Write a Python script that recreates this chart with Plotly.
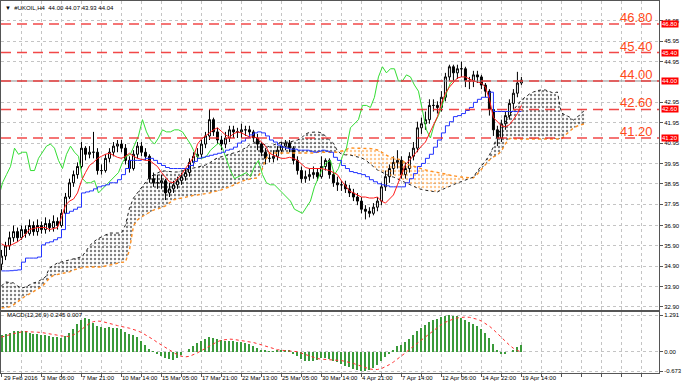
import plotly.graph_objects as go

# ---------------- data ----------------
OPEN = [35.0, 35.4, 35.9, 36.3, 36.6, 36.3, 36.7, 36.5, 36.9, 36.6,
        36.9, 36.7, 37.0, 36.8, 37.1, 36.9, 37.5, 38.3, 39.0, 39.4,
        39.8, 40.7, 40.4, 40.5, 40.5, 39.6, 39.6, 40.2, 40.5, 40.8,
        40.9, 40.7, 40.1, 39.7, 40.4, 40.8, 40.5, 40.3, 39.2, 39.0,
        39.0, 39.1, 38.5, 38.7, 38.9, 39.1, 39.3, 39.5, 40.0, 40.3,
        40.4, 40.9, 41.3, 42.1, 41.5, 41.1, 40.9, 41.2, 41.6, 41.5,
        41.5, 41.6, 41.6, 41.5, 41.2, 40.9, 40.5, 40.2, 40.2, 40.3,
        40.6, 40.8, 40.95, 40.7, 40.1, 39.6, 39.2, 39.3, 39.4, 39.5,
        39.3, 39.8, 40.1, 39.4, 39.0, 38.9, 38.9, 38.7, 38.5, 38.3,
        38.1, 37.7, 37.6, 37.5, 37.8, 38.1, 38.8, 39.3, 39.7, 40.0,
        40.1, 39.4, 39.7, 40.3, 40.7, 41.7, 41.9, 42.1, 42.8, 42.8,
        42.7, 43.2, 44.2, 44.7, 44.4, 44.6, 44.6, 44.0, 44.0, 44.3,
        44.2, 43.8, 43.5, 42.6, 41.6, 41.2, 41.9, 42.3, 42.9, 43.4,
        43.9]
HIGH = [35.7, 36.1, 36.6, 36.9, 36.8, 36.9, 36.9, 37.2, 37.1, 37.2,
        37.1, 37.3, 37.2, 37.4, 37.3, 37.7, 38.5, 39.2, 39.6, 40.0,
        41.0, 40.8, 40.8, 41.5, 40.7, 39.9, 40.4, 40.7, 41.0, 41.1,
        41.1, 40.9, 40.3, 40.6, 41.0, 41.0, 40.7, 40.4, 39.5, 39.4,
        39.4, 39.2, 39.0, 39.1, 39.3, 39.5, 39.7, 40.2, 40.5, 40.7,
        41.1, 41.5, 42.6, 42.2, 41.7, 41.3, 41.5, 41.8, 41.8, 41.7,
        41.9, 41.8, 41.8, 41.6, 41.4, 41.0, 40.7, 40.5, 40.6, 40.8,
        41.0, 41.1, 41.1, 40.8, 40.3, 39.8, 39.6, 39.7, 39.8, 39.7,
        40.3, 40.2, 40.2, 39.6, 39.3, 39.1, 39.1, 38.9, 38.7, 38.5,
        38.3, 37.9, 37.8, 38.0, 38.3, 39.0, 39.6, 39.9, 40.3, 40.6,
        40.3, 40.0, 40.5, 41.0, 42.0, 42.2, 42.5, 43.1, 43.1, 43.0,
        43.5, 44.4, 44.8, 44.8, 44.8, 44.95, 44.7, 44.2, 44.5, 44.5,
        44.3, 43.9, 43.6, 42.8, 41.8, 42.1, 42.5, 43.1, 43.6, 44.45,
        44.2]
LOW = [34.7, 35.2, 35.7, 36.1, 36.1, 36.2, 36.3, 36.4, 36.4, 36.4,
       36.5, 36.5, 36.6, 36.6, 36.7, 36.8, 37.4, 38.2, 38.8, 39.2,
       39.7, 40.1, 40.2, 40.2, 39.4, 39.4, 39.5, 40.0, 40.3, 40.5,
       40.5, 39.9, 39.5, 39.6, 40.2, 40.3, 40.1, 39.0, 38.8, 38.7,
       38.7, 38.15, 38.3, 38.5, 38.7, 38.9, 39.1, 39.3, 39.8, 40.1,
       40.2, 40.7, 41.1, 41.3, 40.9, 40.6, 40.7, 41.0, 41.2, 41.2,
       41.2, 41.3, 41.2, 41.0, 40.6, 40.3, 39.9, 40.0, 40.0, 40.1,
       40.4, 40.6, 40.5, 39.9, 39.4, 39.0, 39.0, 39.1, 39.2, 39.1,
       39.2, 39.6, 39.2, 38.8, 38.6, 38.6, 38.5, 38.3, 38.1, 37.9,
       37.5, 37.2, 37.3, 37.4, 37.6, 37.9, 38.6, 39.0, 39.4, 39.7,
       39.2, 39.2, 39.5, 40.1, 40.5, 41.4, 41.6, 41.9, 42.5, 42.4,
       42.5, 43.0, 44.0, 44.0, 44.1, 44.2, 43.7, 43.6, 43.7, 43.9,
       43.6, 43.2, 42.3, 41.3, 40.8, 41.0, 41.6, 42.1, 42.6, 43.2,
       43.8]
CLOSE = [35.4, 35.9, 36.3, 36.6, 36.3, 36.7, 36.5, 36.9, 36.6, 36.9,
         36.7, 37.0, 36.8, 37.1, 36.9, 37.5, 38.3, 39.0, 39.4, 39.8,
         40.7, 40.4, 40.5, 40.5, 39.6, 39.6, 40.2, 40.5, 40.8, 40.9,
         40.7, 40.1, 39.7, 40.4, 40.8, 40.5, 40.3, 39.2, 39.0, 39.0,
         39.1, 38.5, 38.7, 38.9, 39.1, 39.3, 39.5, 40.0, 40.3, 40.4,
         40.9, 41.3, 42.1, 41.5, 41.1, 40.9, 41.2, 41.6, 41.5, 41.5,
         41.6, 41.6, 41.5, 41.2, 40.9, 40.5, 40.2, 40.2, 40.3, 40.6,
         40.8, 40.95, 40.7, 40.1, 39.6, 39.2, 39.3, 39.4, 39.5, 39.3,
         39.8, 40.1, 39.4, 39.0, 38.9, 38.9, 38.7, 38.5, 38.3, 38.1,
         37.7, 37.6, 37.5, 37.8, 38.1, 38.8, 39.3, 39.7, 40.0, 40.1,
         39.4, 39.7, 40.3, 40.7, 41.7, 41.9, 42.1, 42.8, 42.8, 42.7,
         43.2, 44.2, 44.7, 44.4, 44.6, 44.6, 44.0, 44.0, 44.3, 44.2,
         43.8, 43.5, 42.6, 41.6, 41.2, 41.9, 42.3, 42.9, 43.4, 43.9,
         44.04]

TENKAN = [36.0, 35.9, 35.9, 36.0, 36.1, 36.25, 36.5, 36.7, 36.75, 36.8,
          36.8, 36.8, 36.7, 36.75, 36.8, 37.3, 37.9, 38.1, 38.2, 38.5,
          39.1, 39.5, 39.85, 40.0, 40.2, 40.3, 40.4, 40.45, 40.35, 40.25,
          40.2, 40.3, 40.45, 40.3, 40.2, 40.15, 40.1, 40.1, 39.95, 39.8,
          39.5, 39.25, 39.05, 39.0, 39.2, 39.4, 39.7, 40.0, 40.25, 40.9,
          41.15, 41.3, 41.45, 41.6, 41.7, 41.5, 41.35, 41.25, 41.4, 41.5,
          41.45, 41.35, 41.25, 41.25, 41.2, 41.0, 40.8, 40.45, 40.35, 40.27,
          40.2, 40.2, 40.25, 40.2, 40.1, 39.9, 39.75, 39.7, 39.7, 39.7,
          39.7, 39.65, 39.6, 39.5, 39.4, 39.1, 38.85, 38.6, 38.5, 38.4,
          38.3, 38.3, 38.25, 38.25, 38.3, 38.1, 38.0, 38.2, 38.4, 38.9,
          39.4, 39.9, 40.1, 40.35, 40.6, 40.8, 41.0, 41.4, 41.85, 42.25,
          42.9, 43.4, 43.7, 43.95, 44.15, 44.2, 44.2, 44.1, 44.0, 43.95,
          43.9, 43.7, 43.1, 42.2, 42.0, 41.8, 41.75, 41.85, 42.1, 42.4,
          42.8]
KIJUN = [34.67, 34.67, 34.68, 34.7, 34.72, 35.1, 35.3, 35.3, 35.3, 35.35,
         35.95, 36.05, 36.1, 36.2, 36.3, 36.7, 37.5, 37.6, 37.7, 37.8,
         38.5, 38.55, 38.6, 38.7, 38.8, 38.85, 38.9, 39.0, 39.0, 39.15,
         39.4, 39.7, 40.1, 40.1, 40.1, 40.15, 40.2, 40.2, 40.1, 39.95,
         39.85, 39.75, 39.7, 39.7, 39.7, 39.7, 39.7, 39.85, 40.05, 40.2,
         40.25, 40.3, 40.35, 40.4, 40.45, 40.5, 40.6, 40.65, 40.75, 40.95,
         41.05, 41.2, 41.35, 41.45, 41.5, 41.45, 41.3, 41.1, 41.0, 40.85,
         40.75, 40.7, 40.65, 40.65, 40.6, 40.6, 40.6, 40.55, 40.5, 40.55,
         40.6, 40.55, 40.5, 40.25, 40.1, 39.85, 39.7, 39.55, 39.5, 39.45,
         39.4, 39.3, 39.15, 39.05, 38.95, 38.9, 38.85, 38.8, 38.8, 38.8,
         38.8, 39.0, 39.2, 39.45, 39.8, 39.95, 40.2, 40.4, 40.75, 41.1,
         41.45, 41.8, 42.0, 42.25, 42.3, 42.4, 42.55, 42.7, 42.95, 43.1,
         43.2, 43.2, 43.45, 42.5, 42.5, 42.5, 42.5, 42.5, 42.5, 42.5,
         42.5]
SENKOU_A = [33.93, 34.13, 34.10, 34.08, 33.93, 33.83, 33.88, 33.98, 34.08, 34.13,
            34.23, 34.37, 34.82, 34.96, 35.06, 35.11, 35.16, 35.21, 35.26, 35.31,
            35.36, 35.6, 35.9, 36.09, 36.24, 36.34, 36.44, 36.53, 36.53, 36.53,
            36.53, 36.93, 37.76, 38.25, 38.5, 38.74, 39.04, 39.28, 39.38, 39.48,
            39.58, 39.58, 39.55, 39.53, 39.53, 39.58, 39.63, 39.68, 39.73, 39.78,
            39.83, 39.87, 39.97, 40.12, 40.22, 40.27, 40.34, 40.41, 40.46, 40.51,
            40.61, 40.71, 40.86, 40.95, 41.1, 40.95, 40.86, 40.76, 40.86, 40.95,
            41.0, 41.0, 41.0, 41.05, 41.1, 41.2, 41.4, 41.47, 41.5, 41.5,
            41.45, 41.3, 41.1, 40.95, 40.56, 40.41, 40.37, 40.37, 40.32, 40.27,
            40.22, 40.12, 39.97, 39.78, 39.63, 39.53, 39.43, 39.33, 39.28, 39.19,
            39.09, 38.99, 38.89, 38.79, 38.74, 38.67, 38.62, 38.6, 38.57, 38.55,
            38.65, 38.74, 38.84, 38.94, 38.99, 39.06, 39.14, 39.19, 39.28, 39.58,
            39.82, 40.07, 40.37, 40.76, 41.35, 41.69, 42.04, 42.33, 42.58, 42.82,
            43.07, 43.21, 43.36, 43.46, 43.53, 43.56, 43.56, 43.48, 43.41, 43.46,
            42.43, 42.33, 42.23, 42.08, 42.23, 42.43, 42.58]
SENKOU_B = [32.85, 32.87, 32.9, 33.0, 33.15, 33.29, 33.44, 33.54, 33.64, 33.78,
            33.88, 34.08, 34.32, 34.45, 34.5, 34.52, 34.57, 34.62, 34.72, 34.77,
            34.82, 34.86, 34.86, 34.86, 34.86, 34.86, 34.91, 34.96, 35.01, 35.06,
            35.09, 35.11, 35.7, 36.88, 37.17, 37.32, 37.42, 37.52, 37.66, 37.71,
            37.79, 37.86, 38.01, 38.16, 38.2, 38.25, 38.3, 38.35, 38.38, 38.4,
            38.43, 38.45, 38.5, 38.55, 38.6, 38.65, 38.74, 38.79, 38.89, 38.99,
            39.06, 39.14, 39.19, 39.21, 39.24, 39.58, 40.12, 40.46, 40.46, 40.46,
            40.46, 40.46, 40.46, 40.46, 40.46, 40.46, 40.46, 40.46, 40.46, 40.5,
            40.5, 40.5, 40.5, 40.5, 40.5, 40.56, 40.61, 40.71, 40.71, 40.71,
            40.71, 40.71, 40.68, 40.66, 40.61, 40.51, 40.37, 40.27, 40.22, 40.17,
            40.12, 39.97, 39.87, 39.82, 39.75, 39.68, 39.63, 39.58, 39.55, 39.5,
            39.48, 39.43, 39.38, 39.36, 39.31, 39.28, 39.26, 39.24, 39.24, 39.43,
            39.68, 39.92, 40.12, 40.27, 40.37, 40.56, 40.91, 41.18, 41.15, 41.15,
            41.15, 41.15, 41.15, 41.15, 41.15, 41.15, 41.15, 41.15, 41.15, 41.15,
            41.15, 41.35, 41.54, 41.69, 41.79, 41.84, 41.91]

MACD_MAIN = [0.58, 0.62, 0.68, 0.72, 0.75, 0.74, 0.72, 0.68, 0.64, 0.62,
             0.60, 0.58, 0.56, 0.54, 0.52, 0.50, 0.55, 0.68, 0.82, 0.98,
             1.12, 1.20, 1.15, 1.02, 0.90, 0.86, 0.85, 0.86, 0.85, 0.84,
             0.80, 0.70, 0.62, 0.58, 0.52, 0.40, 0.25, 0.12, 0.02, -0.08,
             -0.15, -0.22, -0.26, -0.27, -0.22, -0.12, 0.0, 0.12, 0.22, 0.32,
             0.40, 0.46, 0.52, 0.50, 0.46, 0.42, 0.40, 0.40, 0.38, 0.36,
             0.34, 0.32, 0.28, 0.22, 0.15, 0.08, 0.04, 0.02, 0.03, 0.05,
             0.08, 0.08, 0.04, -0.04, -0.14, -0.24, -0.30, -0.32, -0.30, -0.28,
             -0.22, -0.20, -0.24, -0.30, -0.36, -0.42, -0.48, -0.53, -0.58, -0.64,
             -0.67, -0.66, -0.62, -0.55, -0.45, -0.32, -0.18, -0.05, 0.08, 0.20,
             0.26, 0.34, 0.45, 0.58, 0.72, 0.85, 0.95, 1.06, 1.12, 1.16,
             1.22, 1.27, 1.29, 1.27, 1.24, 1.20, 1.12, 1.04, 0.98, 0.90,
             0.80, 0.66, 0.48, 0.28, 0.08, -0.04, -0.06, 0.00, 0.08, 0.18,
             0.245]
MACD_SIGNAL = [0.52, 0.55, 0.6, 0.64, 0.68, 0.7, 0.71, 0.71, 0.7, 0.69,
               0.68, 0.66, 0.64, 0.62, 0.59, 0.56, 0.54, 0.55, 0.6, 0.68,
               0.78, 0.9, 1.0, 1.06, 1.08, 1.07, 1.04, 1.0, 0.96, 0.92,
               0.88, 0.86, 0.83, 0.79, 0.74, 0.68, 0.6, 0.52, 0.43, 0.33,
               0.24, 0.15, 0.06, -0.03, -0.1, -0.15, -0.17, -0.15, -0.1, -0.03,
               0.05, 0.13, 0.22, 0.3, 0.36, 0.41, 0.44, 0.45, 0.44, 0.42,
               0.4, 0.38, 0.36, 0.33, 0.29, 0.25, 0.2, 0.15, 0.11, 0.08,
               0.06, 0.05, 0.05, 0.04, 0.01, -0.04, -0.09, -0.14, -0.19, -0.23,
               -0.25, -0.26, -0.27, -0.27, -0.28, -0.3, -0.33, -0.36, -0.4, -0.45,
               -0.5, -0.55, -0.59, -0.61, -0.61, -0.58, -0.52, -0.44, -0.35, -0.25,
               -0.14, -0.03, 0.09, 0.2, 0.32, 0.44, 0.55, 0.66, 0.77, 0.87,
               0.96, 1.04, 1.1, 1.15, 1.19, 1.21, 1.22, 1.21, 1.18, 1.14,
               1.08, 1.0, 0.9, 0.78, 0.64, 0.5, 0.36, 0.24, 0.13, 0.05,
               0.007]

LEVELS = [46.80, 45.40, 44.00, 42.60, 41.20]
PRICE_TICKS = [46.95, 45.95, 44.95, 42.95, 41.95, 40.95, 39.95, 38.95, 37.95,
               36.90, 35.90, 34.90, 33.90, 32.90]
MACD_TICKS = [1.291, 0.00, -0.673]
MACD_TICK_TEXT = ["1.291", "0.00", "-0.673"]
DATE_LABELS = ["29 Feb 2016", "3 Mar 06:00", "7 Mar 21:00", "10 Mar 14:00",
               "15 Mar 05:00", "17 Mar 21:00", "22 Mar 13:00", "25 Mar 05:00",
               "30 Mar 14:00", "4 Apr 21:00", "7 Apr 14:00", "12 Apr 06:00",
               "14 Apr 22:00", "19 Apr 14:00"]
TITLE = "#UKOIL,H4  44.00 44.07 43.93 44.04"
MACD_TITLE = "MACD(12,26,9) 0.245 0.007"
CHIKOU_SHIFT = 16.75   # 26 bars of the original chart, in bar units used here

# ---------------- figure ----------------
FONT = "Liberation Sans"
bars = list(range(len(CLOSE)))
cloud_x = list(range(len(SENKOU_A)))
XR = [-0.125, 164.4]

fig = go.Figure()

# cloud regions (split where span A crosses span B)
def cloud_regions(xs, a, b):
    out = []
    cx, ca, cb = [xs[0]], [a[0]], [b[0]]
    sign = a[0] >= b[0]
    for k in range(1, len(xs)):
        s = a[k] >= b[k]
        if s != sign:
            d0 = a[k - 1] - b[k - 1]
            d1 = a[k] - b[k]
            t = d0 / (d0 - d1)
            xc = xs[k - 1] + t * (xs[k] - xs[k - 1])
            yc = a[k - 1] + t * (a[k] - a[k - 1])
            cx.append(xc); ca.append(yc); cb.append(yc)
            out.append((cx, ca, cb, sign))
            cx, ca, cb = [xc], [yc], [yc]
            sign = s
        cx.append(xs[k]); ca.append(a[k]); cb.append(b[k])
    out.append((cx, ca, cb, sign))
    return out

for cx, ca, cb, up in cloud_regions(cloud_x, SENKOU_A, SENKOU_B):
    col = "#000000" if up else "#FF9020"
    fig.add_trace(go.Scatter(
        x=cx + cx[::-1], y=ca + cb[::-1], mode="lines", fill="toself",
        line=dict(width=0), fillcolor="rgba(0,0,0,0)",
        fillpattern=dict(shape=".", size=4, solidity=0.28, fgcolor=col,
                         bgcolor="rgba(0,0,0,0)"),
        hoverinfo="skip", showlegend=False, xaxis="x", yaxis="y"))

fig.add_trace(go.Scatter(x=cloud_x, y=SENKOU_B, mode="lines",
                         line=dict(color="#FF9020", width=1.4, dash="dot"),
                         showlegend=False, xaxis="x", yaxis="y"))
fig.add_trace(go.Scatter(x=cloud_x, y=SENKOU_A, mode="lines",
                         line=dict(color="#222222", width=1, dash="dot"),
                         showlegend=False, xaxis="x", yaxis="y"))

# level lines
for lv in LEVELS:
    if lv == 44.00:
        fig.add_shape(type="line", xref="x", yref="y", x0=XR[0], x1=XR[1],
                      y0=lv, y1=lv, line=dict(color="#8c8c8c", width=1))
    fig.add_shape(type="line", xref="x", yref="y", x0=XR[0], x1=XR[1], y0=lv, y1=lv,
                  line=dict(color="rgba(240,40,40,0.85)", width=1.6, dash="10px,6px"))

# candles
fig.add_trace(go.Candlestick(
    x=bars, open=OPEN, high=HIGH, low=LOW, close=CLOSE,
    increasing=dict(line=dict(color="#000000", width=1), fillcolor="#ffffff"),
    decreasing=dict(line=dict(color="#000000", width=1), fillcolor="#000000"),
    whiskerwidth=0, showlegend=False, xaxis="x", yaxis="y"))

# ichimoku lines
fig.add_trace(go.Scatter(x=[b - CHIKOU_SHIFT for b in bars], y=CLOSE, mode="lines",
                         line=dict(color="#33DD33", width=1), showlegend=False,
                         xaxis="x", yaxis="y"))
fig.add_trace(go.Scatter(x=bars, y=KIJUN, mode="lines", line=dict(color="#2233FF", width=1),
                         line_shape="hv", showlegend=False, xaxis="x", yaxis="y"))
fig.add_trace(go.Scatter(x=bars, y=TENKAN, mode="lines", line=dict(color="#FF1A1A", width=1),
                         showlegend=False, xaxis="x", yaxis="y"))

# MACD
fig.add_trace(go.Bar(x=bars, y=MACD_MAIN, marker=dict(color="#3A9A3A", line=dict(width=0)),
                     width=0.5, showlegend=False, xaxis="x2", yaxis="y2"))
fig.add_trace(go.Scatter(x=bars, y=MACD_SIGNAL, mode="lines",
                         line=dict(color="#FF3030", width=1, dash="dot"),
                         showlegend=False, xaxis="x2", yaxis="y2"))

# ---------------- annotations ----------------
ann = []
for lv in LEVELS:
    ann.append(dict(xref="paper", yref="y", x=0.994, y=lv, xanchor="right",
                    yanchor="bottom", yshift=-3, showarrow=False, text=f"{lv:.2f}",
                    font=dict(family=FONT, size=13, color="#FF4A1A")))
    ann.append(dict(xref="paper", yref="y", x=1, y=lv, xanchor="left", yanchor="middle",
                    xshift=2, showarrow=False, text=f"{lv:.2f}", bgcolor="#FF0000",
                    borderpad=0, font=dict(family=FONT, size=6, color="#ffffff")))
for k, lab in enumerate(DATE_LABELS):
    ann.append(dict(xref="x2", yref="paper", x=max(10 * k - 0.3, 0.0), y=-0.0134,
                    xanchor="left", yanchor="middle", showarrow=False, text=lab,
                    font=dict(family=FONT, size=6, color="#000000")))
ann.append(dict(xref="paper", yref="paper", x=0.003, y=0.981, xanchor="left", yanchor="middle",
                showarrow=False, text="▼  " + TITLE,
                font=dict(family=FONT, size=6, color="#000000")))
ann.append(dict(xref="paper", yref="paper", x=0.006, y=0.156, xanchor="left", yanchor="middle",
                showarrow=False, text=MACD_TITLE,
                font=dict(family=FONT, size=6, color="#000000")))

grid = dict(showgrid=True, gridcolor="#c4c4c4", griddash="dot", gridwidth=1)
axline = dict(showline=True, mirror=True, linecolor="#555555", linewidth=1)

fig.update_layout(
    width=685, height=387, margin=dict(l=1, r=26, t=1, b=14),
    paper_bgcolor="#ffffff", plot_bgcolor="#ffffff", showlegend=False,
    bargap=0, annotations=ann,
    xaxis=dict(domain=[0, 1], anchor="y", range=XR, tickvals=list(range(0, 165, 5)),
               showticklabels=False, ticks="", rangeslider=dict(visible=False),
               zeroline=False, **grid, **axline),
    yaxis=dict(domain=[0.1694, 1], anchor="x", side="right", range=[32.75, 47.93],
               tickvals=PRICE_TICKS, ticktext=[f"{v:.2f}" for v in PRICE_TICKS],
               ticks="outside", ticklen=3, tickcolor="#555555",
               tickfont=dict(family=FONT, size=6, color="#000000"),
               zeroline=False, **grid, **axline),
    xaxis2=dict(domain=[0, 1], anchor="y2", range=XR, tickvals=list(range(0, 165, 5)),
                showticklabels=False, ticks="outside", ticklen=3, tickcolor="#555555",
                zeroline=False, **grid, **axline),
    yaxis2=dict(domain=[0, 0.164], anchor="x2", side="right", range=[-0.733, 1.396],
                tickvals=MACD_TICKS, ticktext=MACD_TICK_TEXT,
                ticks="outside", ticklen=3, tickcolor="#555555",
                tickfont=dict(family=FONT, size=6, color="#000000"),
                zeroline=False, **grid, **axline),
)

fig.write_html("out.html", config={"displayModeBar": False},
               post_script="document.body.style.margin='0';document.body.style.padding='0';")
